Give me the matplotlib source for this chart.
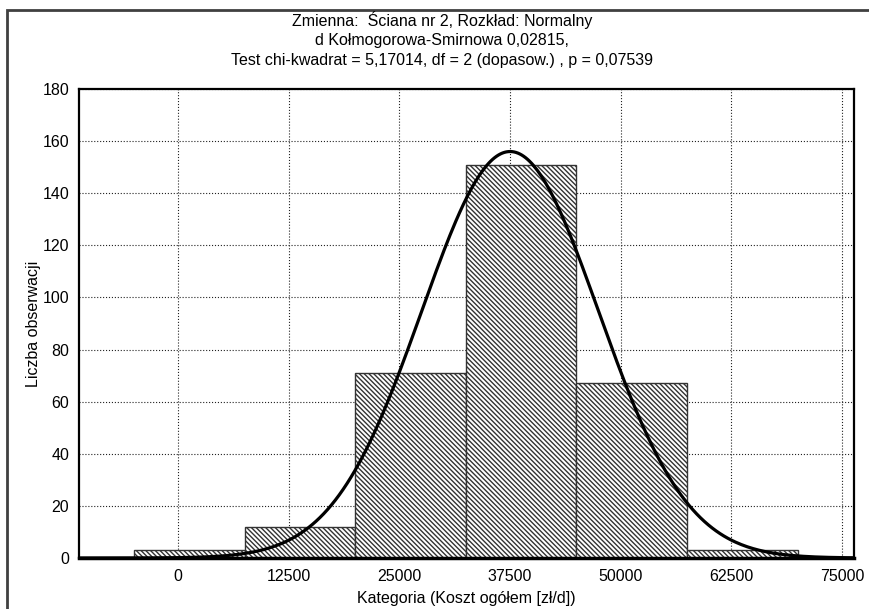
import numpy as np
import matplotlib as mpl
import matplotlib.pyplot as plt
from matplotlib.patches import Rectangle

# histogram data (left bin edges)
bin_left = [-5000, 7500, 20000, 32500, 45000, 57500]
counts = [3, 12, 71, 151, 67, 3]
bin_width = 12500

# fitted normal curve (parameters)
fit_mean = 37500
fit_sd = 10000
fit_peak = 156

xticks = [0, 12500, 25000, 37500, 50000, 62500, 75000]
yticks = [0, 20, 40, 60, 80, 100, 120, 140, 160, 180]

title_lines = ["Zmienna:  Ściana nr 2, Rozkład: Normalny",
               "d Kołmogorowa-Smirnowa 0,02815,",
               "Test chi-kwadrat = 5,17014, df = 2 (dopasow.) , p = 0,07539"]

plt.rcParams['font.family'] = ['Liberation Sans', 'DejaVu Sans']
plt.rcParams['hatch.linewidth'] = 1.0
plt.rcParams['hatch.color'] = '#444444'

fig = plt.figure(figsize=(8.69, 6.09), dpi=100)
ax = fig.add_axes([79/869, 1-558/609, (854-79)/869, (558-89)/609])

# bars
ax.bar(bin_left, counts, width=bin_width, align='edge', facecolor='white',
       edgecolor='#333333', linewidth=1.0, hatch='\\' * 7, zorder=2)

# normal curve
xs = np.linspace(-11200, 76350, 400)
ys = fit_peak*np.exp(-(xs-fit_mean)**2/(2*fit_sd**2))
ax.plot(xs, ys, color='black', lw=2.3, zorder=3)

ax.set_xlim(-11200, 76350)
ax.set_ylim(0, 180)
ax.set_xticks(xticks)
ax.set_yticks(yticks)
ax.tick_params(length=0, labelsize=11.5)
ax.tick_params(axis='x', pad=8)
ax.tick_params(axis='y', pad=7)
ax.grid(True, linestyle=':', color='#222222', linewidth=0.8, zorder=0)
ax.set_axisbelow(True)
for s in ax.spines.values():
    s.set_linewidth(1.6)
ax.spines['bottom'].set_linewidth(2.5)

ax.set_xlabel("Kategoria (Koszt ogółem [zł/d])", fontsize=11.5, labelpad=5)
ax.set_ylabel("Liczba obserwacji", fontsize=11.5, labelpad=1)

# title (3 lines)
for i, line in enumerate(title_lines):
    fig.text(442/869, 1-(20+20.5*i)/609, line, ha='center', va='center', fontsize=11.5)

# frame round the figure
fig.patches.append(Rectangle((7/869, -0.05), 1.1, 1-10/609+0.05, transform=fig.transFigure,
                             fill=False, edgecolor='#404040', linewidth=2))

fig.savefig('out.png', dpi=100)
